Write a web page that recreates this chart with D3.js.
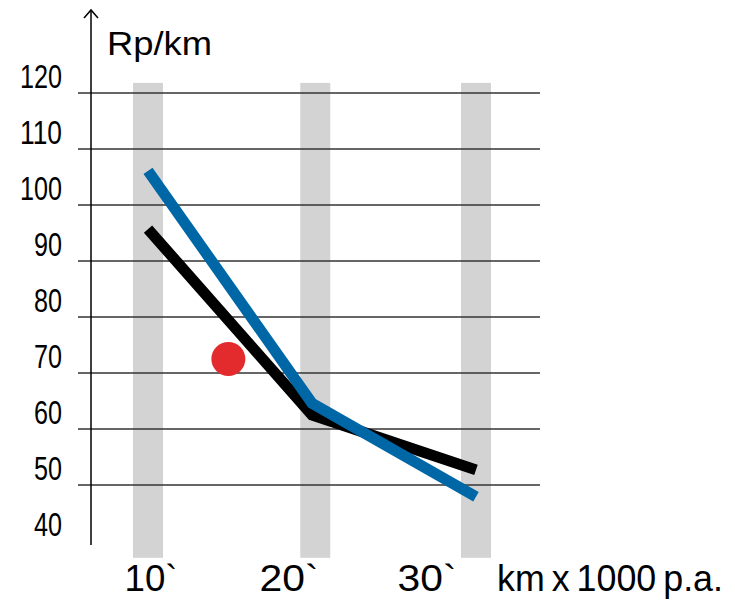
<!DOCTYPE html>
<html>
<head>
<meta charset="utf-8">
<script src="https://cdn.jsdelivr.net/npm/d3@7"></script>
<style>
  html, body { margin: 0; padding: 0; background: #fff; }
  svg { display: block; font-family: "Liberation Sans", Arial, Helvetica, sans-serif; }
</style>
</head>
<body>
<div id="chart"></div>
<script>
// ---- data ----
const xValues      = [10, 20, 30];            // thousand km per year
const blackSeries  = [95.7, 62.5, 52.7];      // Rp/km
const blueSeries   = [106.1, 64.6, 47.9];     // Rp/km
const redPoint     = [14.9, 72.5];            // [x, y]
const bandCenters  = [10, 20.2, 30];
const yTicks       = [120, 110, 100, 90, 80, 70, 60, 50, 40];
const gridValues   = [120, 110, 100, 90, 80, 70, 60, 50];
const xTickLabels  = ["10`", "20`", "30`"];
const xUnitLabel   = "km x 1000 p.a.";
const yUnitLabel   = "Rp/km";

// ---- layout ----
const W = 735, H = 600;
const svg = d3.select("#chart").append("svg").attr("width", W).attr("height", H);

const x = d3.scaleLinear().domain([10, 30]).range([148, 476]);
const y = d3.scaleLinear().domain([40, 120]).range([541, 93]);

const axisX = 91;

// gray bands
svg.append("g").selectAll("rect").data(bandCenters).join("rect")
  .attr("x", d => x(d) - 15)
  .attr("width", 30)
  .attr("y", y(121.8))
  .attr("height", y(37) - y(121.8))
  .attr("fill", "#d3d3d3");

// gridlines
svg.append("g").selectAll("line").data(gridValues).join("line")
  .attr("x1", 78).attr("x2", 540)
  .attr("y1", d => y(d)).attr("y2", d => y(d))
  .attr("stroke", "#333").attr("stroke-width", 1.6);

// y axis with arrow
svg.append("line")
  .attr("x1", axisX).attr("x2", axisX)
  .attr("y1", 10).attr("y2", 545)
  .attr("stroke", "#000").attr("stroke-width", 1.5);
svg.append("path")
  .attr("d", `M${axisX - 7},18 L${axisX},10 L${axisX + 7},18`)
  .attr("fill", "none").attr("stroke", "#000").attr("stroke-width", 1.5);

// y tick labels
svg.append("g").selectAll("text").data(yTicks).join("text")
  .attr("x", 62)
  .attr("y", d => y(d) - 5)
  .attr("text-anchor", "end")
  .attr("font-size", 33)
  .attr("textLength", d => String(d).length * 14)
  .attr("lengthAdjust", "spacingAndGlyphs")
  .attr("fill", "#000")
  .text(d => d);

// y unit
svg.append("text")
  .attr("x", 107).attr("y", 55)
  .attr("font-size", 34)
  .attr("textLength", 105)
  .attr("lengthAdjust", "spacingAndGlyphs")
  .attr("fill", "#000")
  .text(yUnitLabel);

// x tick labels
const xl = d3.scalePoint().domain(xTickLabels).range([151, 427]);
const xLabelWidths = [53, 59, 59];
svg.append("g").selectAll("text").data(xTickLabels).join("text")
  .attr("x", d => xl(d))
  .attr("y", 591)
  .attr("text-anchor", "middle")
  .attr("font-size", 36)
  .attr("textLength", (d, i) => xLabelWidths[i])
  .attr("lengthAdjust", "spacingAndGlyphs")
  .attr("fill", "#000")
  .text(d => d);

svg.append("text")
  .attr("x", 497).attr("y", 591)
  .attr("font-size", 36)
  .attr("word-spacing", -3)
  .attr("textLength", 226)
  .attr("lengthAdjust", "spacingAndGlyphs")
  .attr("fill", "#000")
  .text(xUnitLabel);

// lines
const line = d3.line().x(d => x(d[0])).y(d => y(d[1]));
const blackData = xValues.map((v, i) => [v, blackSeries[i]]);
const blueData  = xValues.map((v, i) => [v, blueSeries[i]]);

svg.append("path").datum(blackData)
  .attr("d", line)
  .attr("fill", "none").attr("stroke", "#000")
  .attr("stroke-width", 11).attr("stroke-linejoin", "miter");

svg.append("path").datum(blueData)
  .attr("d", line)
  .attr("fill", "none").attr("stroke", "#0067a7")
  .attr("stroke-width", 11).attr("stroke-linejoin", "miter");

// red dot
svg.append("circle")
  .attr("cx", x(redPoint[0])).attr("cy", y(redPoint[1]))
  .attr("r", 17).attr("fill", "#e32b2d");
</script>
</body>
</html>
